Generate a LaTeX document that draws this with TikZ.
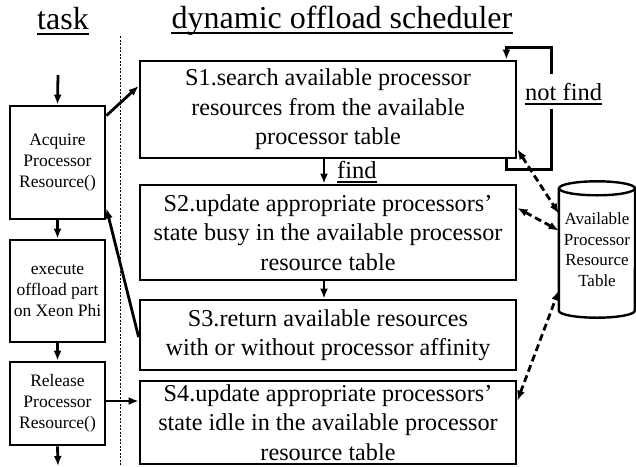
\documentclass[tikz,border=0pt]{standalone}
\usepackage{fontspec}
\setmainfont{Liberation Serif}
\usetikzlibrary{arrows.meta}

\tikzset{
  x=1pt, y=-1pt,
  box/.style={draw, line width=2.8pt, rectangle, inner sep=0pt, align=center},
  stepbox/.style={box, minimum width=376pt, font=\fontsize{24.2}{29.5}\selectfont},
  taskbox/.style={box, minimum width=95pt, font=\fontsize{17.5}{21}\selectfont},
  flow/.style={line width=2.8pt, -{Latex[length=10pt,width=8pt]}},
  access/.style={line width=2.8pt, dash pattern=on 7pt off 4pt,
    {Latex[length=10pt,width=8pt]}-{Latex[length=10pt,width=8pt]}},
  heading/.style={inner xsep=0pt, inner ysep=2pt, font=\fontsize{32}{38}\selectfont},
  tag/.style={inner xsep=0pt, font=\fontsize{24.5}{29}\selectfont},
  ulline/.style={line width=2pt},
  divider/.style={line width=0.9pt, dash pattern=on 2pt off 1.5pt},
}

\begin{document}
\begin{tikzpicture}
\useasboundingbox (0,0) rectangle (636,466);

% column headings
\node[heading, anchor=base] (htask) at (63,29) {task};
\node[heading, anchor=base] (hsched) at (342,28) {dynamic offload scheduler};
\draw[ulline] ([yshift=-5pt]htask.base west) -- ([yshift=-5pt]htask.base east);
\draw[ulline] ([yshift=-5pt]hsched.base west) -- ([yshift=-5pt]hsched.base east);

% separator between task and scheduler
\coordinate (divtop) at (120,36);
\coordinate (divbot) at (120,466);
\draw[divider] (divtop) -- (divbot);

% task side
\node[taskbox, minimum height=113pt] (acq) at (57.5,162.5) {Acquire\\Processor\\Resource()};
\node[taskbox, minimum height=102pt] (exe) at (57.5,291) {execute\\offload part\\on Xeon Phi};
\node[taskbox, minimum height=83pt] (rel) at (57.5,403.5) {Release\\Processor\\Resource()};
\coordinate (tin) at (58,75);
\coordinate (tout) at (58,466);

% scheduler steps
\node[stepbox, minimum height=97pt] (s1) at (328,109.5)
  {S1.search available processor\\resources from the available\\processor table};
\node[stepbox, minimum height=95pt] (s2) at (328,232.5)
  {S2.update appropriate processors’\\state busy in the available processor\\resource table};
\node[stepbox, minimum height=70pt] (s3) at (328,335)
  {S3.return available resources\\with or without processor affinity};
\node[stepbox, minimum height=83pt] (s4) at (328,422.5)
  {S4.update appropriate processors’\\state idle in the available processor\\resource table};

% resource table (cylinder)
\node[inner sep=0pt, minimum width=76pt, minimum height=136pt, align=center,
      font=\fontsize{17}{20.5}\selectfont] (tbl) at (597,249.5)
  {Available\\Processor\\Resource\\Table};
\draw[line width=2.4pt] ([yshift=-7pt]tbl.north west) -- ([yshift=7pt]tbl.south west)
  arc[start angle=180, end angle=360, x radius=38pt, y radius=7pt]
  -- ([yshift=-7pt]tbl.north east);
\draw[line width=2.4pt] ([yshift=-7pt]tbl.north) ellipse[x radius=38pt, y radius=7pt];

% task flow
\draw[flow] (tin) -- (acq.north);
\draw[flow] (acq.south) -- (exe.north);
\draw[flow] (exe.south) -- (rel.north);
\draw[flow] (rel.south) -- (tout);

% calls between task and scheduler
\draw[flow] ([yshift=-11pt]acq.north east) -- ([yshift=23.5pt]s1.west);
\draw[flow] ([yshift=-2pt]s3.west) -- ([yshift=12pt]acq.south east);
\draw[flow] ([yshift=2.5pt]rel.east) -- ([yshift=2.5pt]rel.east -| s4.west);

% scheduler flow
\draw[flow] ([xshift=-4pt]s1.south) -- ([xshift=-4pt]s2.north);
\draw[flow] ([xshift=-4pt]s2.south) -- ([xshift=-4pt]s3.north);
\node[tag, anchor=base west] (lfind) at (337,178) {find};
\draw[ulline] ([yshift=-4pt]lfind.base west) -- ([yshift=-4pt]lfind.base east);

% retry loop
\draw[flow] ([xshift=-11pt]s1.south east) -- ++(0,10) -- ++(45,0) -- ++(0,-122)
  -- ++(-45,0) -- ([xshift=-11pt]s1.north east);
\node[tag, anchor=base west, fill=white, inner ysep=8.5pt] (lnot) at (525,100) {not find};
\draw[ulline] ([yshift=-4pt]lnot.base west) -- ([yshift=-4pt]lnot.base east);

% table accesses
\draw[access] ([yshift=10pt]s1.south east) -- ([yshift=36pt]tbl.west);
\draw[access] ([yshift=24.5pt]s2.east) -- ([yshift=19pt]tbl.west);
\draw[access] ([yshift=-21pt]s4.north east) -- ([yshift=-41pt]tbl.west);
\end{tikzpicture}
\end{document}
